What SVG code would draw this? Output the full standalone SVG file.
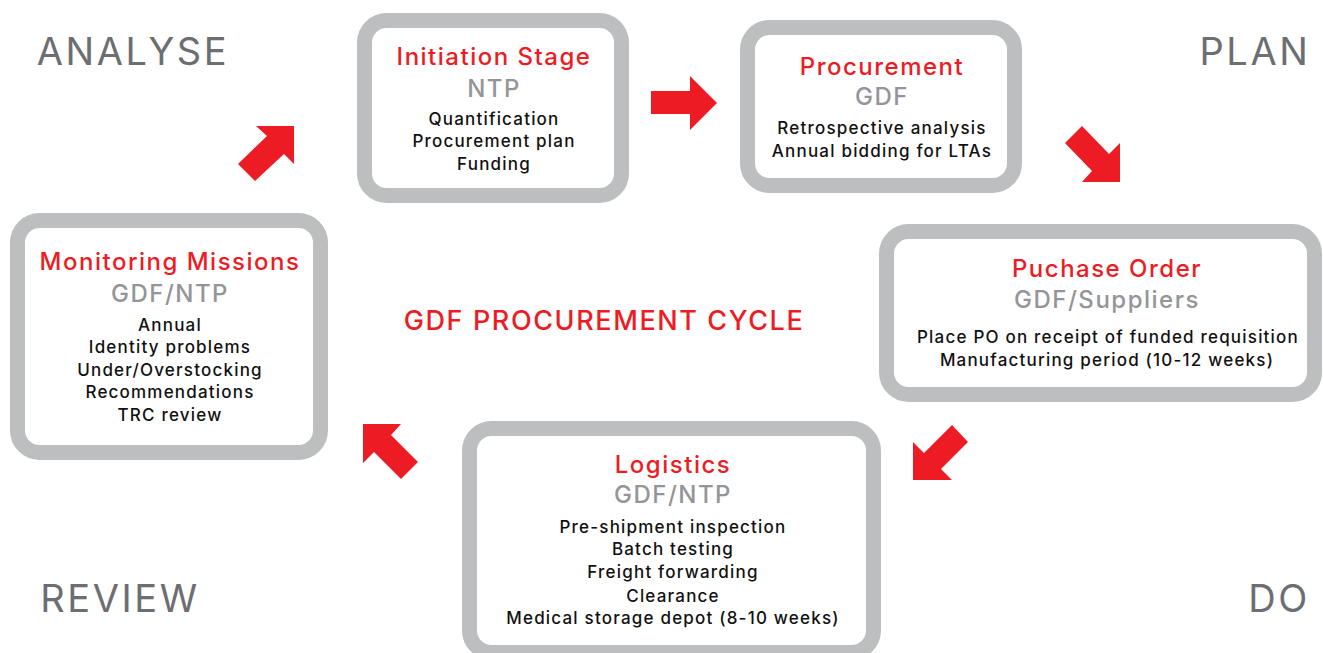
<svg xmlns="http://www.w3.org/2000/svg" width="1323" height="653" viewBox="0 0 1323 653">
<style>
.box{fill:#fff;stroke:#bcbec0;stroke-width:15}
text{font-family:Inter,"Open Sans","Liberation Sans",sans-serif;text-anchor:middle}
.t{fill:#ed1c24;font-size:24px;font-weight:500;letter-spacing:1.5px}
.s{fill:#939598;font-size:24px;font-weight:500;letter-spacing:1.5px}
.b{fill:#111;font-size:17px;font-weight:500;letter-spacing:1.2px}
.c{fill:#6d6e71;font-size:38px;font-weight:400;letter-spacing:2.6px}
.h{fill:#ed1c24;font-size:27px;font-weight:500;letter-spacing:1.6px}
.arrow{fill:#ed1c24}
</style>
<rect width="1323" height="653" fill="#fff"/>
<text class="c" x="133" y="65">ANALYSE</text>
<text class="c" x="1255" y="65">PLAN</text>
<text class="c" x="120" y="612">REVIEW</text>
<text class="c" x="1279" y="612">DO</text>
<text class="h" x="604" y="330">GDF PROCUREMENT CYCLE</text>
<g id="initiation">
<rect class="box" x="364.5" y="20.5" width="257" height="175" rx="22"/>
<text class="t" x="494" y="65">Initiation Stage</text>
<text class="s" x="494" y="97">NTP</text>
<text class="b" x="494" y="125">Quantification</text>
<text class="b" x="494" y="147">Procurement plan</text>
<text class="b" x="494" y="170">Funding</text>
</g>
<g id="procurement">
<rect class="box" x="747.5" y="27.5" width="267" height="158" rx="22"/>
<text class="t" x="882" y="75">Procurement</text>
<text class="s" x="882" y="105">GDF</text>
<text class="b" x="882" y="134">Retrospective analysis</text>
<text class="b" x="882" y="157">Annual bidding for LTAs</text>
</g>
<g id="purchase-order">
<rect class="box" x="886.5" y="231.5" width="428" height="163" rx="22"/>
<text class="t" x="1107" y="277">Puchase Order</text>
<text class="s" x="1107" y="308">GDF/Suppliers</text>
<text class="b" x="1108" y="343">Place PO on receipt of funded requisition</text>
<text class="b" x="1107" y="366">Manufacturing period (10-12 weeks)</text>
</g>
<g id="logistics">
<rect class="box" x="469.5" y="428.5" width="404" height="224" rx="22"/>
<text class="t" x="673" y="473">Logistics</text>
<text class="s" x="673" y="503">GDF/NTP</text>
<text class="b" x="673" y="533">Pre-shipment inspection</text>
<text class="b" x="673" y="555">Batch testing</text>
<text class="b" x="673" y="578">Freight forwarding</text>
<text class="b" x="673" y="602">Clearance</text>
<text class="b" x="673" y="624">Medical storage depot (8-10 weeks)</text>
</g>
<g id="monitoring">
<rect class="box" x="17.5" y="220.5" width="303" height="232" rx="22"/>
<text class="t" x="170" y="270">Monitoring Missions</text>
<text class="s" x="170" y="302">GDF/NTP</text>
<text class="b" x="170" y="331">Annual</text>
<text class="b" x="170" y="353">Identity problems</text>
<text class="b" x="170" y="376">Under/Overstocking</text>
<text class="b" x="170" y="398">Recommendations</text>
<text class="b" x="170" y="421">TRC review</text>
</g>
<g id="connectors">
<polygon class="arrow" points="256,126 294,126 294,164 284,154 255,181 238,164 267,136"/>
<polygon class="arrow" points="651,91 690,91 690,76 717,103 690,130 690,114 651,114"/>
<polygon class="arrow" points="1065,143 1082,126 1109,154 1120,143 1120,182 1082,182 1092,171"/>
<polygon class="arrow" points="913,442 913,480 952,480 941,469 968,442 952,425 924,453"/>
<polygon class="arrow" points="363,424 401,424 391,435 418,462 401,479 374,452 363,463"/>
</g>
</svg>
